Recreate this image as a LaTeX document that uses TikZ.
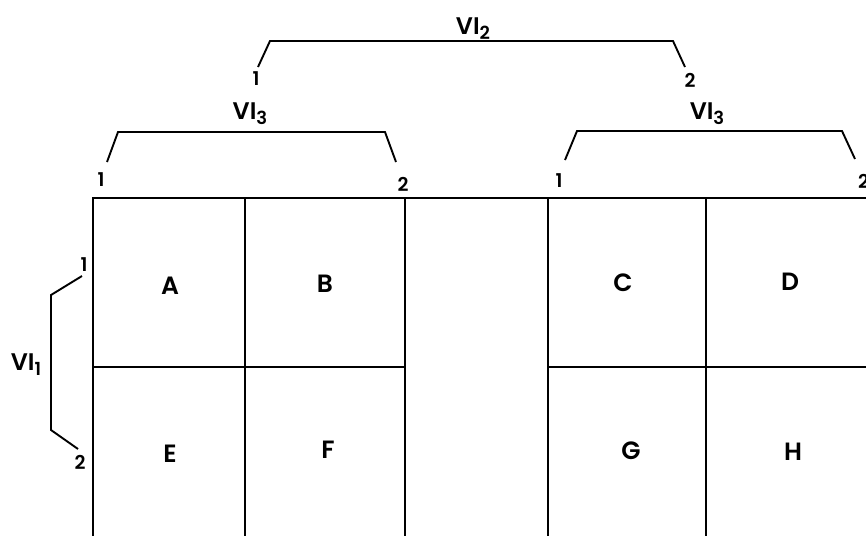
\documentclass[tikz,border=0pt]{standalone}
\usepackage{fontspec}
\setmainfont{Poppins}[BoldFont={Poppins SemiBold}]
\begin{document}
\begin{tikzpicture}[x=1pt,y=-1pt,
  grid/.style={line width=2.7pt},
  brk/.style={line width=1.9pt, line join=miter},
  cell/.style={font=\bfseries\fontsize{25}{25}\selectfont, inner sep=0pt},
  num/.style={font=\bfseries\fontsize{19}{19}\selectfont, inner sep=0pt},
  vilab/.style={font=\bfseries\fontsize{24}{24}\selectfont, inner sep=0pt}]
\useasboundingbox (0,0) rectangle (866,536);
% grid
\draw[grid] (866,198) -- (93,198) -- (93,536);
\foreach \x in {245,405,548,706} \draw[grid] (\x,198) -- (\x,536);
\draw[grid] (93,367) -- (405,367);
\draw[grid] (548,367) -- (866,367);
% cells
\node[cell] (A) at (170,286) {A};
\node[cell] (B) at (325,284) {B};
\node[cell] (C) at (623,283) {C};
\node[cell] (D) at (790,282) {D};
\node[cell] (E) at (170,454) {E};
\node[cell] (F) at (328,450) {F};
\node[cell] (G) at (631,451) {G};
\node[cell] (H) at (793,452) {H};
% VI2 bracket
\coordinate (v2a) at (258,67); \coordinate (v2b) at (270,41);
\coordinate (v2c) at (673,41); \coordinate (v2d) at (685,67);
\draw[brk] (v2a) -- (v2b) -- (v2c) -- (v2d);
\node[num] (v2n1) at (256,79) {1};
\node[num] (v2n2) at (690,80) {2};
\node[vilab] (v2l) at (473,29) {VI\raisebox{-5pt}{\fontsize{18}{18}\selectfont 2}};
% VI3 left bracket
\coordinate (l3a) at (107,162); \coordinate (l3b) at (118,132);
\coordinate (l3c) at (385,132); \coordinate (l3d) at (396,162);
\draw[brk] (l3a) -- (l3b) -- (l3c) -- (l3d);
\node[num] (l3n1) at (101,180) {1};
\node[num] (l3n2) at (403,184) {2};
\node[vilab] (l3l) at (250,114) {VI\raisebox{-5pt}{\fontsize{18}{18}\selectfont 3}};
% VI3 right bracket
\coordinate (r3a) at (565,160); \coordinate (r3b) at (577,131);
\coordinate (r3c) at (842,131); \coordinate (r3d) at (855,159);
\draw[brk] (r3a) -- (r3b) -- (r3c) -- (r3d);
\node[num] (r3n1) at (559,181) {1};
\node[num,anchor=west] (r3n2) at (858,181) {2};
\node[vilab] (r3l) at (707,114) {VI\raisebox{-5pt}{\fontsize{18}{18}\selectfont 3}};
% VI1 bracket
\coordinate (v1a) at (82,276); \coordinate (v1b) at (51,295);
\coordinate (v1c) at (51,430); \coordinate (v1d) at (78,449);
\draw[brk] (v1a) -- (v1b) -- (v1c) -- (v1d);
\node[num] (v1n1) at (84,265) {1};
\node[num] (v1n2) at (80,462) {2};
\node[vilab] (v1l) at (26,365) {VI\raisebox{-5pt}{\fontsize{18}{18}\selectfont 1}};
\end{tikzpicture}
\end{document}
